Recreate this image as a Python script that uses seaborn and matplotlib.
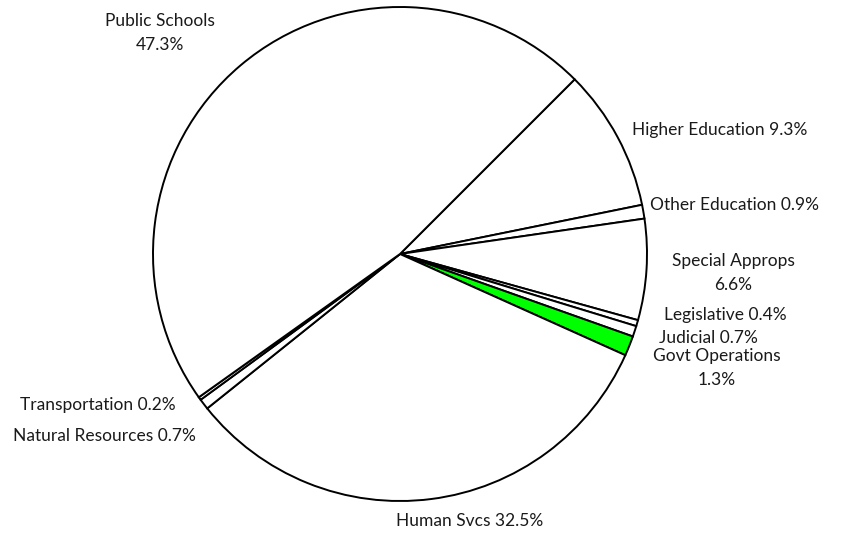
import matplotlib
matplotlib.use("Agg")
import matplotlib.pyplot as plt
import seaborn as sns

sns.set_theme(style="white")
plt.rcParams['font.family'] = ['Lato', 'DejaVu Sans']

categories = ["Higher Education", "Other Education", "Special Approps", "Legislative",
              "Judicial", "Govt Operations", "Human Svcs", "Natural Resources",
              "Transportation", "Public Schools"]
values = [9.3, 0.9, 6.6, 0.4, 0.7, 1.3, 32.5, 0.7, 0.2, 47.3]
label_texts = ["Higher Education 9.3%", "Other Education 0.9%", "Special Approps\n6.6%",
               "Legislative 0.4%", "Judicial 0.7%", "Govt Operations\n1.3%",
               "Human Svcs 32.5%", "Natural Resources 0.7%", "Transportation 0.2%",
               "Public Schools\n47.3%"]
colors = ["white"] * 5 + ["#00FF00"] + ["white"] * 4

# label centres in pixel coords (x, y from top)
label_px = [(720, 130), (735, 205), (733, 273), (725, 315), (708, 338),
            (717, 368), (470, 521), (104, 436), (98, 405), (160, 33)]

W, H = 848, 538
fig = plt.figure(figsize=(W / 100, H / 100), dpi=100)
cx, cy, r = 400, 254, 247
ax = fig.add_axes([(cx - r) / W, (H - cy - r) / H, 2 * r / W, 2 * r / H])
ax.pie(values, colors=colors, startangle=45, counterclock=False,
       wedgeprops=dict(edgecolor="black", linewidth=1.4))
ax.set_xlim(-1, 1)
ax.set_ylim(-1, 1)
ax.set_aspect("auto")
ax.axis("off")

for txt, (px, py) in zip(label_texts, label_px):
    fig.text(px / W, 1 - py / H, txt, ha="center", va="center", fontsize=12.5,
             color="#1a1a1a", linespacing=1.65)

fig.savefig("out.png", dpi=100, facecolor="white")
